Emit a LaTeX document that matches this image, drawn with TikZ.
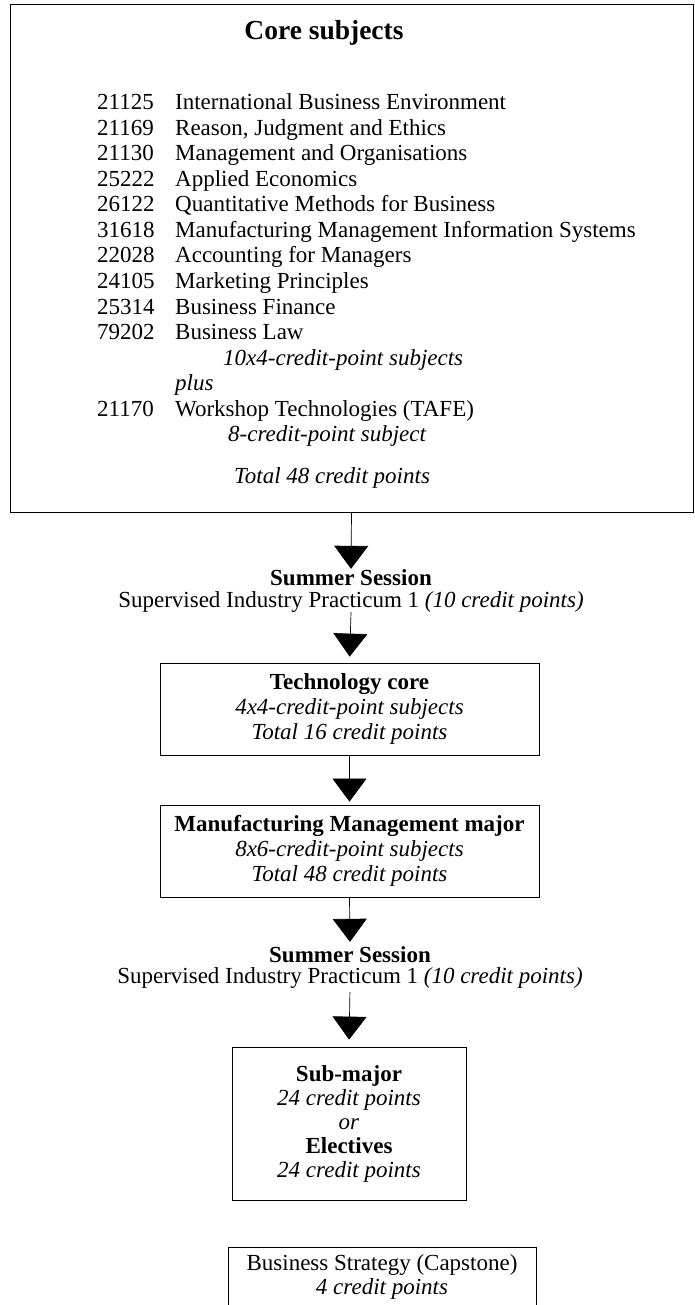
\documentclass[tikz,border=0pt]{standalone}
\usepackage{fontspec}
\setmainfont{Liberation Serif}
\usetikzlibrary{arrows.meta}

\begin{document}
\begin{tikzpicture}[x=1pt, y=-1pt,
	every node/.style={font=\fontsize{23pt}{25pt}\selectfont},
	stagebox/.style={draw, line width=0.8pt, inner sep=0pt, align=center},
	entry/.style={anchor=base west, inner sep=0pt},
	caption/.style={anchor=base, inner sep=0pt},
	flow/.style={line width=0.7pt, -{Triangle[width=34pt,length=23pt]}}]
\useasboundingbox (0,0) rectangle (695,1305);

	%% Kernfaecher
\begin{scope}
	\node[stagebox, minimum width=683pt, minimum height=508pt] (core) at (351.5,258) {};
	\node[caption, font=\fontsize{27.5pt}{30pt}\selectfont\bfseries] (title) at (324,40) {Core subjects};

	\node[entry] (s1) at (97,110) {\makebox[78pt][l]{21125}International Business Environment};
	\node[entry] (s2) at (97,135.5) {\makebox[78pt][l]{21169}Reason, Judgment and Ethics};
	\node[entry] (s3) at (97,161) {\makebox[78pt][l]{21130}Management and Organisations};
	\node[entry] (s4) at (97,186.5) {\makebox[78pt][l]{25222}Applied Economics};
	\node[entry] (s5) at (97,212) {\makebox[78pt][l]{26122}Quantitative Methods for Business};
	\node[entry] (s6) at (97,237.5) {\makebox[78pt][l]{31618}Manufacturing Management Information Systems};
	\node[entry] (s7) at (97,263) {\makebox[78pt][l]{22028}Accounting for Managers};
	\node[entry] (s8) at (97,288.5) {\makebox[78pt][l]{24105}Marketing Principles};
	\node[entry] (s9) at (97,314) {\makebox[78pt][l]{25314}Business Finance};
	\node[entry] (s10) at (97,339.5) {\makebox[78pt][l]{79202}Business Law};
	\node[entry] (n1) at (223,365) {\textit{10x4-credit-point subjects}};
	\node[entry] (plus) at (175,390.5) {\textit{plus}};
	\node[entry] (s11) at (97,416) {\makebox[78pt][l]{21170}Workshop Technologies (TAFE)};
	\node[entry] (n2) at (228,441.5) {\textit{8-credit-point subject}};
	\node[entry] (total) at (234,483) {\textit{Total 48 credit points}};
\end{scope}
	%%%%%%%%%%%%%%%%

	%% Ablauf
	\node[caption] (sess1) at (351,585) {\textbf{Summer Session}};
	\node[caption] (prac1) at (351,607) {Supervised Industry Practicum 1 \textit{(10 credit points)}};

	\node[stagebox, minimum width=379pt, minimum height=92pt] (tech) at (349.5,709)
		{\textbf{Technology core}\\\textit{4x4-credit-point subjects}\\\textit{Total 16 credit points}};
	\node[stagebox, minimum width=379pt, minimum height=92pt] (major) at (349.5,851)
		{\textbf{Manufacturing Management major}\\\textit{8x6-credit-point subjects}\\\textit{Total 48 credit points}};

	\node[caption] (sess2) at (350,962) {\textbf{Summer Session}};
	\node[caption] (prac2) at (350,983) {Supervised Industry Practicum 1 \textit{(10 credit points)}};

	\node[stagebox, minimum width=234pt, minimum height=153pt, font=\fontsize{23pt}{24pt}\selectfont] (sub) at (349,1123.5)
		{\textbf{Sub-major}\\\textit{24 credit points}\\\textit{or}\\\textbf{Electives}\\\textit{24 credit points}};

	\node[caption] (cap) at (382,1270) {Business Strategy (Capstone)};
	\node[caption] (capcp) at (382,1294) {\textit{4 credit points}};
	\draw[line width=0.8pt] (228,1305) |- (536,1247) -- (536,1305);
	%%%%%%%%%%%%%%%%

	%% Pfeile
	\draw[flow] (core.south) -- (sess1.north);
	\draw[flow, shorten >=6pt] (prac1.south) -- (tech.north);
	\draw[flow, shorten >=3pt] (tech.south) -- (major.north);
	\draw[flow, shorten >=4pt] (major.south) -- (sess2.north);
	\draw[flow, shorten <=4pt, shorten >=7pt] (prac2.south) -- (sub.north);
\end{tikzpicture}
\end{document}
